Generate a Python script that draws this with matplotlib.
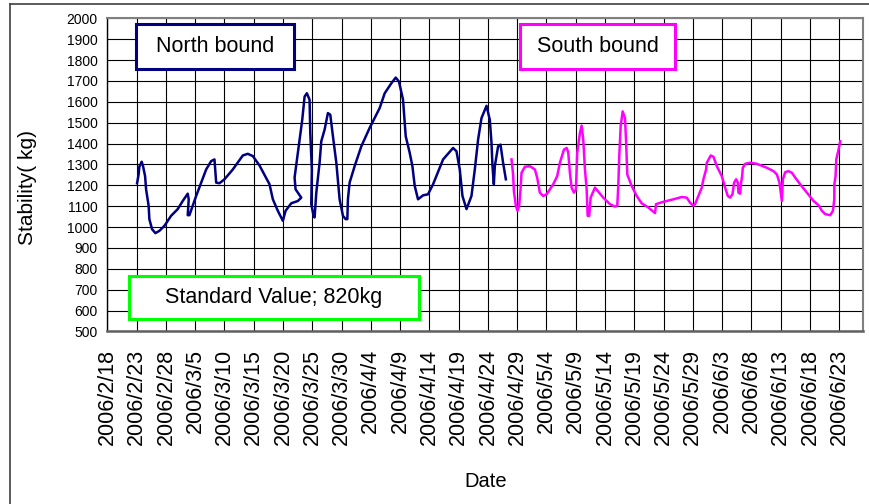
import datetime as dt
import matplotlib
matplotlib.use("Agg")
import matplotlib.pyplot as plt
from matplotlib.patches import Rectangle
from matplotlib.lines import Line2D

plt.rcParams['font.family'] = ['Liberation Sans', 'DejaVu Sans']

# Days after 2006/2/18 and measured stability (kg)
start = dt.date(2006, 2, 18)

north_days = [5.08, 5.35, 5.47, 5.87, 6.10, 6.45, 6.62, 7.06, 7.18, 7.64, 8.21, 8.89,
              9.75, 10.89, 12.02, 12.88, 13.73, 13.90, 13.73, 14.02, 15.17, 16.88,
              17.73, 18.30, 18.59, 19.15, 20.01, 21.43, 23.14, 23.99, 24.85, 25.99,
              27.70, 28.27, 29.12, 29.98, 30.44, 31.41, 32.54, 33.12, 32.15, 31.98,
              32.54, 33.29, 33.69, 34.08, 34.54, 34.66, 34.93, 34.83, 35.22, 35.40,
              35.69, 36.25, 36.54, 37.11, 37.67, 38.08, 38.53, 39.11, 39.67, 40.24,
              40.70, 40.99, 41.09, 41.38, 42.24, 43.38, 44.80, 46.51, 47.37, 48.51,
              49.25, 49.81, 50.50, 50.96, 51.64, 52.10, 52.50, 53.06, 53.92, 54.77,
              55.63, 57.34, 59.05, 59.63, 60.19, 60.65, 61.34, 62.19, 62.76, 63.32,
              63.90, 64.76, 65.32, 65.61, 65.78, 66.01, 66.18, 66.74, 67.15, 67.59,
              68.06]
north_kg = [1210, 1253, 1289, 1313, 1292, 1244, 1181, 1101, 1038, 990, 971, 982,
            1006, 1054, 1086, 1125, 1160, 1133, 1057, 1057, 1149, 1276,
            1316, 1324, 1213, 1210, 1229, 1276, 1343, 1351, 1340, 1295,
            1205, 1133, 1078, 1030, 1078, 1114, 1125, 1141, 1181, 1237,
            1356, 1514, 1625, 1641, 1610, 1451, 1276, 1110, 1054, 1046,
            1165, 1308, 1411, 1467, 1546, 1538, 1435, 1308, 1133, 1054,
            1038, 1038, 1133, 1213, 1292, 1387, 1475, 1570, 1641, 1689,
            1716, 1697, 1610, 1435, 1356, 1292, 1197, 1133, 1152, 1157,
            1205, 1324, 1379, 1363, 1276, 1149, 1086, 1149, 1276, 1419,
            1522, 1581, 1514, 1403, 1292, 1205, 1292, 1387, 1395, 1308,
            1229]

south_days = [69.03, 69.30, 69.43, 69.77, 70.06, 70.33, 70.57, 70.74, 71.31, 72.16,
              73.02, 73.41, 73.87, 74.44, 75.02, 76.15, 76.83, 77.29, 77.98, 78.44,
              78.71, 79.00, 79.29, 79.69, 80.03, 80.25, 80.71, 81.00, 81.28, 81.57,
              81.86, 82.03, 82.30, 82.54, 83.28, 84.70, 85.84, 86.70, 87.09, 87.26,
              87.43, 87.67, 88.01, 88.41, 88.58, 88.80, 89.55, 90.41, 91.26, 92.39,
              93.54, 93.71, 94.96, 96.67, 98.10, 98.96, 99.52, 100.09, 100.38, 100.94,
              101.52, 101.80, 102.26, 102.38, 103.06, 103.51, 104.09, 104.94, 105.51,
              105.97, 106.36, 106.76, 107.05, 107.39, 107.68, 107.78, 108.07, 108.24,
              108.41, 108.53, 108.93, 109.78, 110.93, 112.64, 113.77, 114.35, 114.79,
              115.20, 115.37, 115.77, 116.33, 116.91, 117.48, 118.33, 119.48, 120.61,
              121.46, 122.04, 122.61, 123.46, 123.92, 124.15, 124.16, 124.37, 124.49,
              124.88, 125.17]
south_kg = [1324, 1252, 1173, 1102, 1078, 1102, 1181, 1260, 1289, 1292,
            1276, 1237, 1165, 1149, 1157, 1205, 1244, 1308, 1371, 1379,
            1359, 1260, 1189, 1165, 1181, 1356, 1451, 1486, 1419, 1276,
            1181, 1054, 1054, 1141, 1189, 1141, 1110, 1098, 1102, 1197,
            1340, 1483, 1554, 1522, 1419, 1252, 1197, 1149, 1114, 1094,
            1067, 1110, 1121, 1133, 1144, 1141, 1117, 1102, 1110, 1149,
            1189, 1229, 1276, 1308, 1343, 1337, 1292, 1244, 1189,
            1149, 1141, 1157, 1213, 1229, 1213, 1165, 1160, 1213,
            1244, 1284, 1303, 1308, 1303, 1284, 1268, 1252, 1213,
            1125, 1229, 1263, 1268, 1260, 1237, 1205, 1165, 1125,
            1105, 1078, 1062, 1057, 1078, 1133, 1205, 1244, 1324,
            1371, 1411]

tick_days = list(range(0, 126, 5))
tick_labels = []
for d in tick_days:
    day = start + dt.timedelta(days=d)
    tick_labels.append("{}/{}/{}".format(day.year, day.month, day.day))

fig = plt.figure(figsize=(8.69, 5.04), dpi=100)
ax = fig.add_axes([0.1235, 0.3423, 0.8699, 0.6214])

ax.plot(north_days, north_kg, color='#000080', lw=1.8, zorder=3)
ax.plot(south_days, south_kg, color='#FF00FF', lw=1.8, zorder=3)

ax.set_xlim(0, 129.1)
ax.set_ylim(500, 2000)
ax.set_yticks(range(500, 2001, 100))
ax.set_xticks(tick_days)
ax.set_xticklabels(tick_labels, rotation=90, fontsize=15.5)
ax.tick_params(axis='x', length=0, pad=12.5)
ax.tick_params(axis='y', length=0, pad=7, labelsize=10)
ax.grid(True, color='black', lw=0.8)
ax.set_axisbelow(True)

for side in ['top', 'right', 'bottom']:
    ax.spines[side].set_color('#808080')
    ax.spines[side].set_linewidth(1.5)
ax.spines['bottom'].set_color('#606060')
ax.spines['bottom'].set_linewidth(1.8)
ax.spines['left'].set_color('black')
ax.spines['left'].set_linewidth(1.0)

ax.set_ylabel("Stability( kg)", fontsize=15)
ax.yaxis.set_label_coords(-0.105, 0.461)
ax.yaxis.label.set_verticalalignment('center')
ax.set_xlabel("Date", fontsize=14.5)
ax.xaxis.set_label_coords(0.5, -0.48)
ax.xaxis.label.set_verticalalignment('center')

# Caption boxes drawn in axes fractions
boxes = [
    ("North bound", 0.0376, 0.2466, 0.8372, 0.9818, '#000080'),
    ("South bound", 0.5455, 0.7513, 0.8372, 0.9818, '#FF00FF'),
    ("Standard Value; 820kg", 0.0287, 0.4119, 0.0390, 0.1762, '#00FF00'),
]
for text, x0, x1, y0, y1, col in boxes:
    ax.add_patch(Rectangle((x0, y0), x1 - x0, y1 - y0, transform=ax.transAxes,
                           facecolor='white', edgecolor=col, lw=2.2, zorder=4))
    ax.text((x0 + x1) / 2, (y0 + y1) / 2, text, transform=ax.transAxes,
            ha='center', va='center', fontsize=15.5, zorder=5)

# Chart area border (left and top edges)
fx = 10 / 869
fy = 1 - 4 / 504
fig.add_artist(Line2D([fx, fx], [0, fy], color='#404040', lw=1.2))
fig.add_artist(Line2D([fx, 1], [fy, fy], color='#404040', lw=1.2))

fig.savefig("out.png", dpi=100)
